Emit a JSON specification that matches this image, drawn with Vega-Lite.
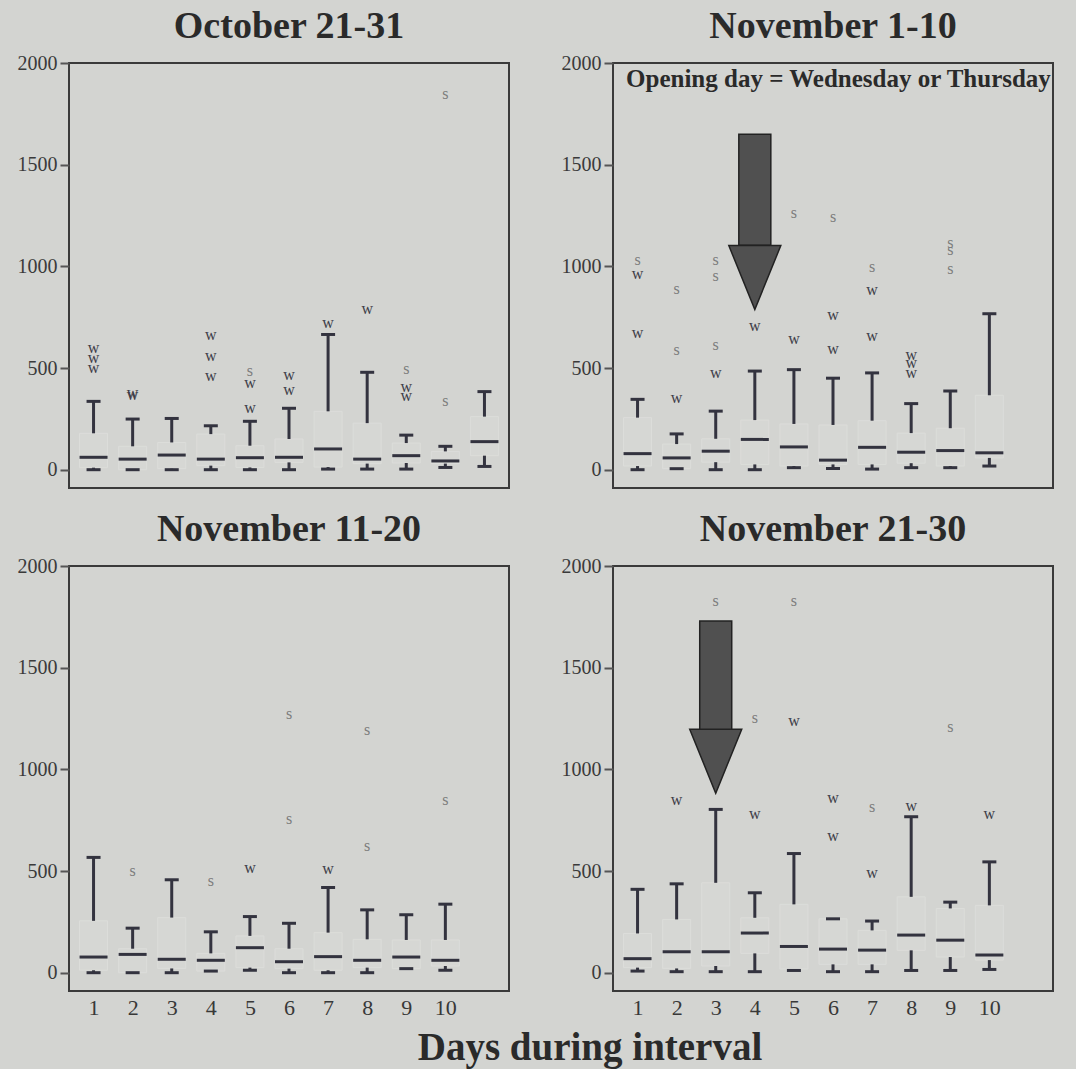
{
  "$schema": "https://vega.github.io/schema/vega-lite/v6.json",
  "background": "#d3d4d1",
  "padding": {"left": 16, "top": 7, "right": 22, "bottom": 4},
  "title": {"text": "Days during interval", "orient": "bottom", "anchor": "middle", "font": "Liberation Serif", "fontSize": 39, "fontWeight": "bold", "color": "#2a2a2a", "offset": 11, "dx": 55},
  "config": {"view": {"stroke": "#3a3a3a", "strokeWidth": 2, "fill": "#d3d4d1"}, "font": "Liberation Serif"},
  "data": {"values": [
    {"k":"box","p":"October 21-31","day":1,"lo":0,"q1":10,"med":61,"q3":179,"hi":336},
    {"k":"box","p":"October 21-31","day":2,"lo":0,"q1":0,"med":52,"q3":115,"hi":249},
    {"k":"box","p":"October 21-31","day":3,"lo":0,"q1":5,"med":72,"q3":134,"hi":252},
    {"k":"box","p":"October 21-31","day":4,"lo":0,"q1":20,"med":52,"q3":175,"hi":216},
    {"k":"box","p":"October 21-31","day":5,"lo":0,"q1":11,"med":59,"q3":118,"hi":238},
    {"k":"box","p":"October 21-31","day":6,"lo":0,"q1":36,"med":61,"q3":151,"hi":302},
    {"k":"box","p":"October 21-31","day":7,"lo":3,"q1":13,"med":102,"q3":287,"hi":665},
    {"k":"box","p":"October 21-31","day":8,"lo":3,"q1":30,"med":52,"q3":229,"hi":479},
    {"k":"box","p":"October 21-31","day":9,"lo":3,"q1":33,"med":69,"q3":131,"hi":170},
    {"k":"box","p":"October 21-31","day":10,"lo":11,"q1":30,"med":43,"q3":90,"hi":115},
    {"k":"box","p":"October 21-31","day":11,"lo":16,"q1":69,"med":138,"q3":261,"hi":384},
    {"k":"out","p":"October 21-31","day":1,"val":598,"lab":"w"},
    {"k":"out","p":"October 21-31","day":1,"val":549,"lab":"w"},
    {"k":"out","p":"October 21-31","day":1,"val":498,"lab":"w"},
    {"k":"out","p":"October 21-31","day":2,"val":377,"lab":"w"},
    {"k":"out","p":"October 21-31","day":2,"val":368,"lab":"w"},
    {"k":"out","p":"October 21-31","day":4,"val":662,"lab":"w"},
    {"k":"out","p":"October 21-31","day":4,"val":561,"lab":"w"},
    {"k":"out","p":"October 21-31","day":4,"val":462,"lab":"w"},
    {"k":"out","p":"October 21-31","day":5,"val":487,"lab":"s"},
    {"k":"out","p":"October 21-31","day":5,"val":426,"lab":"w"},
    {"k":"out","p":"October 21-31","day":5,"val":302,"lab":"w"},
    {"k":"out","p":"October 21-31","day":6,"val":465,"lab":"w"},
    {"k":"out","p":"October 21-31","day":6,"val":392,"lab":"w"},
    {"k":"out","p":"October 21-31","day":7,"val":721,"lab":"w"},
    {"k":"out","p":"October 21-31","day":8,"val":790,"lab":"w"},
    {"k":"out","p":"October 21-31","day":9,"val":495,"lab":"s"},
    {"k":"out","p":"October 21-31","day":9,"val":408,"lab":"w"},
    {"k":"out","p":"October 21-31","day":9,"val":364,"lab":"w"},
    {"k":"out","p":"October 21-31","day":10,"val":336,"lab":"s"},
    {"k":"out","p":"October 21-31","day":10,"val":1847,"lab":"s"},

    {"k":"box","p":"November 1-10","day":1,"lo":0,"q1":18,"med":79,"q3":256,"hi":346},
    {"k":"box","p":"November 1-10","day":2,"lo":5,"q1":5,"med":58,"q3":126,"hi":176},
    {"k":"box","p":"November 1-10","day":3,"lo":0,"q1":37,"med":91,"q3":152,"hi":288},
    {"k":"box","p":"November 1-10","day":4,"lo":0,"q1":26,"med":149,"q3":244,"hi":485},
    {"k":"box","p":"November 1-10","day":5,"lo":10,"q1":18,"med":112,"q3":225,"hi":492},
    {"k":"box","p":"November 1-10","day":6,"lo":6,"q1":26,"med":47,"q3":220,"hi":450},
    {"k":"box","p":"November 1-10","day":7,"lo":3,"q1":26,"med":110,"q3":241,"hi":476},
    {"k":"box","p":"November 1-10","day":8,"lo":10,"q1":32,"med":86,"q3":180,"hi":325},
    {"k":"box","p":"November 1-10","day":9,"lo":10,"q1":18,"med":94,"q3":204,"hi":387},
    {"k":"box","p":"November 1-10","day":10,"lo":18,"q1":58,"med":83,"q3":366,"hi":767},
    {"k":"out","p":"November 1-10","day":1,"val":1029,"lab":"s"},
    {"k":"out","p":"November 1-10","day":1,"val":964,"lab":"w"},
    {"k":"out","p":"November 1-10","day":1,"val":673,"lab":"w"},
    {"k":"out","p":"November 1-10","day":2,"val":888,"lab":"s"},
    {"k":"out","p":"November 1-10","day":2,"val":587,"lab":"s"},
    {"k":"out","p":"November 1-10","day":2,"val":354,"lab":"w"},
    {"k":"out","p":"November 1-10","day":3,"val":1032,"lab":"s"},
    {"k":"out","p":"November 1-10","day":3,"val":955,"lab":"s"},
    {"k":"out","p":"November 1-10","day":3,"val":612,"lab":"s"},
    {"k":"out","p":"November 1-10","day":3,"val":476,"lab":"w"},
    {"k":"out","p":"November 1-10","day":4,"val":709,"lab":"w"},
    {"k":"out","p":"November 1-10","day":5,"val":644,"lab":"w"},
    {"k":"out","p":"November 1-10","day":5,"val":1264,"lab":"s"},
    {"k":"out","p":"November 1-10","day":6,"val":759,"lab":"w"},
    {"k":"out","p":"November 1-10","day":6,"val":592,"lab":"w"},
    {"k":"out","p":"November 1-10","day":6,"val":1245,"lab":"s"},
    {"k":"out","p":"November 1-10","day":7,"val":997,"lab":"s"},
    {"k":"out","p":"November 1-10","day":7,"val":883,"lab":"w"},
    {"k":"out","p":"November 1-10","day":7,"val":657,"lab":"w"},
    {"k":"out","p":"November 1-10","day":8,"val":565,"lab":"w"},
    {"k":"out","p":"November 1-10","day":8,"val":524,"lab":"w"},
    {"k":"out","p":"November 1-10","day":8,"val":476,"lab":"w"},
    {"k":"out","p":"November 1-10","day":9,"val":1113,"lab":"s"},
    {"k":"out","p":"November 1-10","day":9,"val":1078,"lab":"s"},
    {"k":"out","p":"November 1-10","day":9,"val":989,"lab":"s"},
    {"k":"arrow","p":"November 1-10","day":4,"top":1650,"neck":1104,"head":945},
    {"k":"note","p":"November 1-10","note":"Opening day = Wednesday or Thursday","nx":6.14,"ny":1920},

    {"k":"box","p":"November 11-20","day":1,"lo":0,"q1":12,"med":77,"q3":255,"hi":567},
    {"k":"box","p":"November 11-20","day":2,"lo":0,"q1":0,"med":90,"q3":118,"hi":219},
    {"k":"box","p":"November 11-20","day":3,"lo":0,"q1":21,"med":66,"q3":271,"hi":457},
    {"k":"box","p":"November 11-20","day":4,"lo":8,"q1":8,"med":61,"q3":95,"hi":201},
    {"k":"box","p":"November 11-20","day":5,"lo":12,"q1":25,"med":123,"q3":181,"hi":276},
    {"k":"box","p":"November 11-20","day":6,"lo":0,"q1":20,"med":54,"q3":118,"hi":243},
    {"k":"box","p":"November 11-20","day":7,"lo":0,"q1":12,"med":79,"q3":197,"hi":419},
    {"k":"box","p":"November 11-20","day":8,"lo":0,"q1":25,"med":61,"q3":164,"hi":309},
    {"k":"box","p":"November 11-20","day":9,"lo":20,"q1":20,"med":77,"q3":161,"hi":285},
    {"k":"box","p":"November 11-20","day":10,"lo":12,"q1":33,"med":61,"q3":161,"hi":337},
    {"k":"out","p":"November 11-20","day":2,"val":498,"lab":"s"},
    {"k":"out","p":"November 11-20","day":4,"val":449,"lab":"s"},
    {"k":"out","p":"November 11-20","day":5,"val":513,"lab":"w"},
    {"k":"out","p":"November 11-20","day":6,"val":757,"lab":"s"},
    {"k":"out","p":"November 11-20","day":6,"val":1272,"lab":"s"},
    {"k":"out","p":"November 11-20","day":7,"val":510,"lab":"w"},
    {"k":"out","p":"November 11-20","day":8,"val":622,"lab":"s"},
    {"k":"out","p":"November 11-20","day":8,"val":1193,"lab":"s"},
    {"k":"out","p":"November 11-20","day":10,"val":847,"lab":"s"},

    {"k":"box","p":"November 21-30","day":1,"lo":8,"q1":25,"med":69,"q3":193,"hi":410},
    {"k":"box","p":"November 21-30","day":2,"lo":5,"q1":21,"med":103,"q3":262,"hi":437},
    {"k":"box","p":"November 21-30","day":3,"lo":5,"q1":33,"med":103,"q3":442,"hi":803},
    {"k":"box","p":"November 21-30","day":4,"lo":5,"q1":95,"med":195,"q3":270,"hi":393},
    {"k":"box","p":"November 21-30","day":5,"lo":11,"q1":18,"med":129,"q3":336,"hi":586},
    {"k":"box","p":"November 21-30","day":6,"lo":5,"q1":41,"med":116,"q3":265,"hi":265},
    {"k":"box","p":"November 21-30","day":7,"lo":5,"q1":41,"med":111,"q3":208,"hi":254},
    {"k":"box","p":"November 21-30","day":8,"lo":11,"q1":110,"med":185,"q3":373,"hi":767},
    {"k":"box","p":"November 21-30","day":9,"lo":11,"q1":77,"med":160,"q3":316,"hi":347},
    {"k":"box","p":"November 21-30","day":10,"lo":16,"q1":62,"med":87,"q3":331,"hi":545},
    {"k":"out","p":"November 21-30","day":2,"val":847,"lab":"w"},
    {"k":"out","p":"November 21-30","day":3,"val":1828,"lab":"s"},
    {"k":"out","p":"November 21-30","day":4,"val":781,"lab":"w"},
    {"k":"out","p":"November 21-30","day":4,"val":1253,"lab":"s"},
    {"k":"out","p":"November 21-30","day":5,"val":1238,"lab":"w"},
    {"k":"out","p":"November 21-30","day":5,"val":1828,"lab":"s"},
    {"k":"out","p":"November 21-30","day":6,"val":857,"lab":"w"},
    {"k":"out","p":"November 21-30","day":6,"val":672,"lab":"w"},
    {"k":"out","p":"November 21-30","day":7,"val":814,"lab":"s"},
    {"k":"out","p":"November 21-30","day":7,"val":491,"lab":"w"},
    {"k":"out","p":"November 21-30","day":8,"val":822,"lab":"w"},
    {"k":"out","p":"November 21-30","day":9,"val":1208,"lab":"s"},
    {"k":"out","p":"November 21-30","day":10,"val":778,"lab":"w"},
    {"k":"arrow","p":"November 21-30","day":3,"top":1730,"neck":1194,"head":1040}
  ]},
  "facet": {
    "field": "p", "type": "nominal",
    "sort": ["October 21-31", "November 1-10", "November 11-20", "November 21-30"],
    "header": {"title": null, "labelFont": "Liberation Serif", "labelFontSize": 38, "labelFontWeight": "bold", "labelColor": "#2a2a2a", "labelPadding": 7}
  },
  "columns": 2,
  "spacing": {"row": 21, "column": 50},
  "resolve": {"axis": {"y": "independent"}},
  "spec": {
    "width": 440,
    "height": 425,
    "layer": [
      {
        "transform": [{"filter": "datum.k == 'box'"}],
        "mark": {"type": "bar", "width": 28, "fill": "#d6d7d4", "stroke": "#dcddda", "strokeWidth": 1},
        "encoding": {
          "x": {"field": "day", "type": "quantitative", "scale": {"domain": [0.5, 11.5], "nice": false, "zero": false},
                "axis": {"values": [1,2,3,4,5,6,7,8,9,10], "title": null, "ticks": false, "domain": false, "grid": false, "labelFontSize": 22, "labelColor": "#383838", "labelPadding": 5, "labelFont": "Liberation Serif"}},
          "y": {"field": "q1", "type": "quantitative", "scale": {"domain": [-90, 2000], "nice": false, "zero": false},
                "axis": {"values": [0, 500, 1000, 1500, 2000], "format": "d", "title": null, "grid": false, "domain": false, "tickSize": 9, "tickWidth": 2, "tickColor": "#555555", "labelFontSize": 20, "labelColor": "#3a3a3a", "labelPadding": 3, "labelFont": "Liberation Serif"}},
          "y2": {"field": "q3"}
        }
      },
      {
        "transform": [{"filter": "datum.k == 'box'"}],
        "mark": {"type": "rule", "color": "#33333f", "strokeWidth": 3},
        "encoding": {
          "x": {"field": "day", "type": "quantitative"},
          "y": {"field": "q3", "type": "quantitative"},
          "y2": {"field": "hi"}
        }
      },
      {
        "transform": [{"filter": "datum.k == 'box'"}],
        "mark": {"type": "rule", "color": "#33333f", "strokeWidth": 3},
        "encoding": {
          "x": {"field": "day", "type": "quantitative"},
          "y": {"field": "lo", "type": "quantitative"},
          "y2": {"field": "q1"}
        }
      },
      {
        "transform": [{"filter": "datum.k == 'box'"}],
        "mark": {"type": "tick", "orient": "horizontal", "size": 14, "thickness": 3, "color": "#33333f", "opacity": 1},
        "encoding": {
          "x": {"field": "day", "type": "quantitative"},
          "y": {"field": "hi", "type": "quantitative"}
        }
      },
      {
        "transform": [{"filter": "datum.k == 'box'"}],
        "mark": {"type": "tick", "orient": "horizontal", "size": 14, "thickness": 3, "color": "#33333f", "opacity": 1},
        "encoding": {
          "x": {"field": "day", "type": "quantitative"},
          "y": {"field": "lo", "type": "quantitative"}
        }
      },
      {
        "transform": [{"filter": "datum.k == 'box'"}],
        "mark": {"type": "tick", "orient": "horizontal", "size": 28, "thickness": 3, "color": "#33333f", "opacity": 1},
        "encoding": {
          "x": {"field": "day", "type": "quantitative"},
          "y": {"field": "med", "type": "quantitative"}
        }
      },
      {
        "transform": [{"filter": "datum.k == 'out'"}],
        "mark": {"type": "text", "font": "Liberation Serif", "fontSize": 16, "baseline": "middle", "align": "center"},
        "encoding": {
          "x": {"field": "day", "type": "quantitative"},
          "y": {"field": "val", "type": "quantitative"},
          "text": {"field": "lab"},
          "color": {"field": "lab", "type": "nominal", "scale": {"domain": ["w", "s"], "range": ["#3d3d48", "#7c7c7c"]}, "legend": null}
        }
      },
      {
        "transform": [{"filter": "datum.k == 'arrow'"}],
        "mark": {"type": "bar", "width": 32, "fill": "#505050", "stroke": "#222222", "strokeWidth": 1.5},
        "encoding": {
          "x": {"field": "day", "type": "quantitative"},
          "y": {"field": "neck", "type": "quantitative"},
          "y2": {"field": "top"}
        }
      },
      {
        "transform": [{"filter": "datum.k == 'arrow'"}],
        "mark": {"type": "point", "shape": "M-1,-1.23L1,-1.23L0,1.23Z", "size": 2704, "filled": true, "fill": "#505050", "stroke": "#222222", "strokeWidth": 1.5, "opacity": 1},
        "encoding": {
          "x": {"field": "day", "type": "quantitative"},
          "y": {"field": "head", "type": "quantitative"}
        }
      },
      {
        "transform": [{"filter": "datum.k == 'note'"}],
        "mark": {"type": "text", "font": "Liberation Serif", "fontSize": 25, "fontWeight": "bold", "color": "#2a2a2a", "baseline": "middle", "align": "center"},
        "encoding": {
          "x": {"field": "nx", "type": "quantitative"},
          "y": {"field": "ny", "type": "quantitative"},
          "text": {"field": "note"}
        }
      }
    ]
  }
}
